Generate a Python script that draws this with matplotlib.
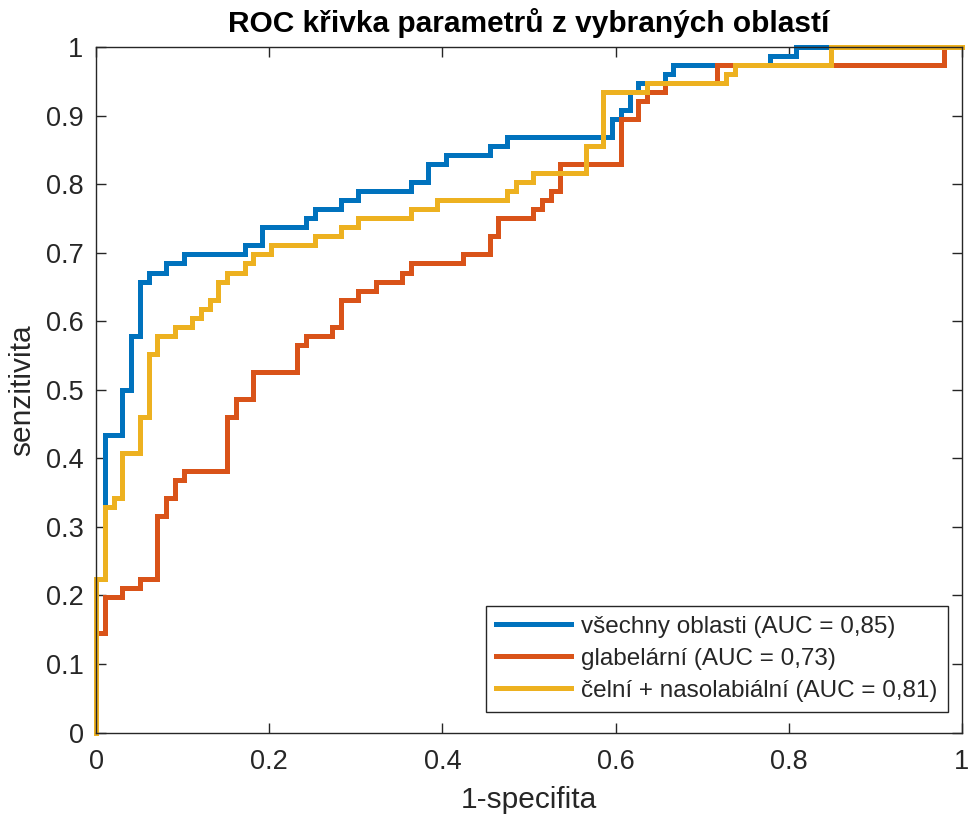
import matplotlib
matplotlib.use("Agg")
import matplotlib.pyplot as plt

plt.rcParams['font.family'] = ['Liberation Sans', 'DejaVu Sans']

# Number of negative / positive cases (ROC steps are counts of these)
N_NEG = 99
N_POS = 76

# Step corners: (false positives count, true positives count reached at that FP count)
all_fp = [0, 1, 3, 4, 5, 6, 8, 10, 17, 19, 24, 25, 28, 30, 36, 38, 40, 45, 47, 59, 60, 61, 62, 65, 66, 77, 80]
all_tp = [17, 33, 38, 44, 50, 51, 52, 53, 54, 56, 57, 58, 59, 60, 61, 63, 64, 65, 66, 68, 69, 71, 72, 73, 74, 75, 76]

glab_fp = [0, 1, 3, 5, 7, 8, 9, 10, 15, 16, 18, 23, 24, 27, 28, 30, 32, 35, 36, 42, 45, 46, 50, 51, 52, 53, 60, 62, 63, 65, 71, 97]
glab_tp = [11, 15, 16, 17, 24, 26, 28, 29, 35, 37, 40, 43, 44, 45, 48, 49, 50, 51, 52, 53, 55, 57, 58, 59, 60, 63, 68, 70, 71, 72, 74, 76]

celni_fp = [0, 1, 2, 3, 5, 6, 7, 9, 11, 12, 13, 14, 15, 17, 18, 20, 25, 28, 30, 36, 39, 47, 48, 50, 56, 58, 63, 72, 73, 84]
celni_tp = [17, 25, 26, 31, 35, 42, 44, 45, 46, 47, 48, 50, 51, 52, 53, 54, 55, 56, 57, 58, 59, 60, 61, 62, 65, 71, 72, 73, 74, 76]

labels = ['všechny oblasti (AUC = 0,85)',
          'glabelární (AUC = 0,73)',
          'čelní + nasolabiální (AUC = 0,81)']
colors = ['#0072BD', '#D95319', '#EDB120']


def step_path(fp, tp):
    xs, ys = [0.0], [0.0]
    prev = 0.0
    for f, t in zip(fp, tp):
        x = f / N_NEG
        xs += [x, x]
        ys += [prev, t / N_POS]
        prev = t / N_POS
    xs.append(1.0)
    ys.append(prev)
    return xs, ys


fig = plt.figure(figsize=(9.71, 8.16), dpi=100)
ax = fig.add_axes([0.0989, 0.1023, 0.8918, 0.8401])

for (fp, tp), lab, c in zip([(all_fp, all_tp), (glab_fp, glab_tp), (celni_fp, celni_tp)], labels, colors):
    xs, ys = step_path(fp, tp)
    ax.plot(xs, ys, color=c, lw=3.6, label=lab, solid_joinstyle='miter', clip_on=False)

ax.set_xlim(0, 1)
ax.set_ylim(0, 1)
ax.set_xticks([0, 0.2, 0.4, 0.6, 0.8, 1])
ax.set_xticklabels(['0', '0.2', '0.4', '0.6', '0.8', '1'])
ax.set_yticks([i / 10 for i in range(11)])
ax.set_yticklabels(['0', '0.1', '0.2', '0.3', '0.4', '0.5', '0.6', '0.7', '0.8', '0.9', '1'])

axc = '#262626'
for s in ax.spines.values():
    s.set_color(axc)
    s.set_linewidth(1.0)
ax.tick_params(direction='in', length=7, width=1.0, colors=axc, labelsize=19.5,
               top=True, right=True)
ax.tick_params(axis='y', pad=9)
ax.tick_params(axis='x', pad=12)
for lbl in ax.get_xticklabels() + ax.get_yticklabels():
    lbl.set_color(axc)

ax.set_xlabel('1-specifita', fontsize=21.5, color=axc, labelpad=8)
ax.set_ylabel('senzitivita', fontsize=21.5, color=axc, labelpad=7)
ax.set_title('ROC křivka parametrů z vybraných oblastí', fontsize=21.5,
             fontweight='bold', color='black', pad=11)

leg = ax.legend(loc='lower right', bbox_to_anchor=(0.9835, 0.03), fontsize=17.5,
                frameon=True, fancybox=False, framealpha=1, edgecolor=axc,
                handlelength=3.1, handletextpad=0.4, borderpad=0.42,
                labelspacing=0.41, borderaxespad=0)
leg.get_frame().set_linewidth(1.0)
for t in leg.get_texts():
    t.set_color(axc)

fig.savefig('out.png', dpi=100)
